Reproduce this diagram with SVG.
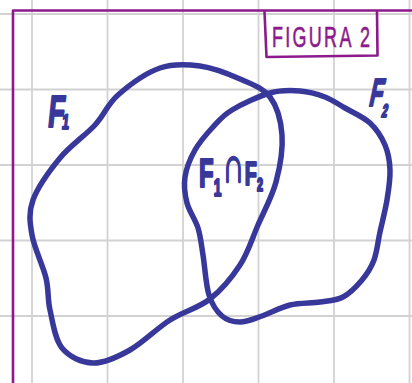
<svg xmlns="http://www.w3.org/2000/svg" width="412" height="383" viewBox="0 0 412 383">
<style>
.grid{stroke:#d2d2d2;stroke-width:1.8;fill:none}
.border{stroke:#8c1a8c;stroke-width:2.6;fill:none;stroke-linecap:round;stroke-linejoin:round}
.blob{stroke:#38389b;stroke-width:5.5;fill:none;stroke-linecap:round;stroke-linejoin:round}
.lbl{fill:#38389b;stroke:#38389b;stroke-width:2.2;stroke-linejoin:round;font-family:"Liberation Sans",Arial,sans-serif;font-weight:bold}
.fig{fill:#8c1a8c;stroke:#8c1a8c;stroke-width:0.6;font-family:"Liberation Sans",Arial,sans-serif}
</style>
<rect width="412" height="383" fill="#ffffff"/>
<g id="grid" class="grid">
<path d="M32,0V383M107.5,0V383M183,0V383M258.5,0V383M334,0V383M409.5,0V383"/>
<path d="M0,14H412M0,89.5H412M0,165H412M0,240.5H412M0,316H412"/>
</g>
<g id="border" class="border">
<path d="M13,383V10.5H412"/>
</g>
<g id="figura">
<path class="border" d="M264.5,11.5L266.5,57L377.5,55.5L377,12"/>
<text class="fig" transform="translate(272,47) scale(0.62,1)" font-size="29" textLength="158" lengthAdjust="spacing">FIGURA 2</text>
</g>
<g id="F1">
<path class="blob" d="M118,95C128.8,85.5 146.3,72.8 160,68C173.7,63.2 186.7,64.2 200,66C213.3,67.8 228.3,73.8 240,79C251.7,84.2 263,87.7 270,97C277,106.3 281,120.8 282,135C283,149.2 280,167 276,182C272,197 264,211.2 258,225C252,238.8 248,252.7 240,265C232,277.3 221.7,289.8 210,299C198.3,308.2 183.3,311.5 170,320C156.7,328.5 142.8,342.8 130,350C117.2,357.2 104.3,363.3 93,363C81.7,362.7 69.2,356.8 62,348C54.8,339.2 52.7,321.7 50,310C47.3,298.3 49,290.5 46,278C43,265.5 34.2,248 32,235C29.8,222 28.3,212.8 33,200C37.7,187.2 49.7,170.5 60,158C70.3,145.5 85.3,135.5 95,125C104.7,114.5 107.2,104.5 118,95Z"/>
<text class="lbl" transform="translate(47,127) skewX(-6) scale(0.6,1)" font-size="45">F<tspan font-size="21" dx="-3" dy="2">1</tspan></text>
</g>
<g id="F2">
<path class="blob" d="M232,110C241.5,104.3 258.7,96.2 270,93C281.3,89.8 290.8,90.3 300,91C309.2,91.7 317.5,94.2 325,97C332.5,99.8 337.5,103.7 345,108C352.5,112.3 363.3,116.8 370,123C376.7,129.2 381.7,137.2 385,145C388.3,152.8 389.7,160.8 390,170C390.3,179.2 388.7,189.7 387,200C385.3,210.3 382.2,222 380,232C377.8,242 377,252 374,260C371,268 367.2,273.8 362,280C356.8,286.2 350,293.3 343,297C336,300.7 328.8,300.7 320,302C311.2,303.3 299.7,302.7 290,305C280.3,307.3 270.3,313.2 262,316C253.7,318.8 246.7,322 240,322C233.3,322 227.2,320.5 222,316C216.8,311.5 212.2,305.2 209,295C205.8,284.8 204.8,266.2 203,255C201.2,243.8 200.7,236.7 198,228C195.3,219.3 189.2,211.5 187,203C184.8,194.5 183.7,185.8 185,177C186.3,168.2 190.3,158.3 195,150C199.7,141.7 206.8,133.7 213,127C219.2,120.3 222.5,115.7 232,110Z"/>
<text class="lbl" transform="translate(368,106) skewX(-12) scale(0.55,1)" font-size="39">F<tspan font-size="18" dx="4" dy="11">2</tspan></text>
</g>
<g id="F1nF2">
<text class="lbl" transform="translate(199,187) scale(0.6,1)" font-size="40">F<tspan font-size="23" dy="9">1</tspan><tspan font-size="50" dx="2" dy="-14">∩</tspan><tspan font-size="33" dx="1" dy="3">F</tspan><tspan font-size="18" dy="6">2</tspan></text>
</g>
</svg>
